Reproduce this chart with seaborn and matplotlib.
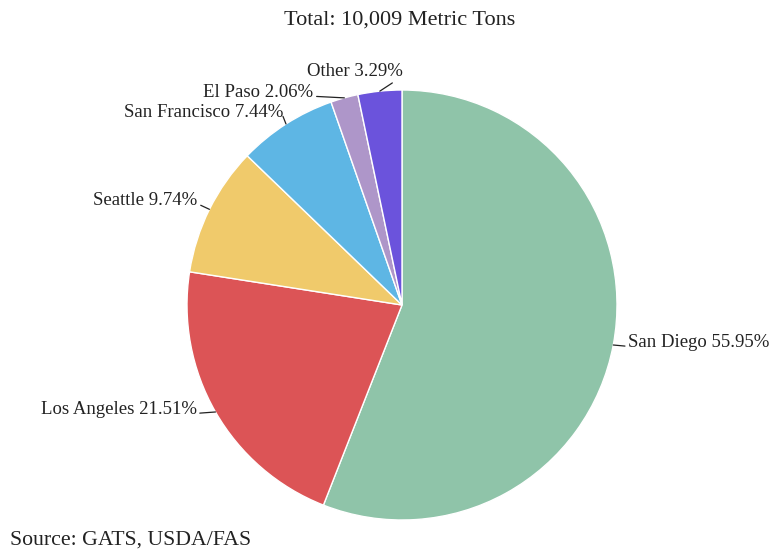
import numpy as np
import matplotlib.pyplot as plt
import seaborn as sns

ports = ["San Diego", "Los Angeles", "Seattle", "San Francisco", "El Paso", "Other"]
shares = [55.95, 21.51, 9.74, 7.44, 2.06, 3.29]
colors = ["#8fc4a9", "#dc5456", "#f0ca6b", "#5eb6e4", "#ae96c9", "#6b53dc"]
total_text = "Total: 10,009 Metric Tons"
source_text = "Source: GATS, USDA/FAS"

# label offsets from wedge edge (pixels), alignment, leader attach point
offsets = {
    "San Diego": (15, 2, "left", (0, 0.3)),
    "Los Angeles": (-19, 2, "right", (1, 0.3)),
    "Seattle": (-12, 9, "right", (1, 0.3)),
    "San Francisco": (-3, 11, "right", (1, 0.3)),
    "El Paso": (-31, 5, "right", (1, 0.3)),
    "Other": (23, 20, "right", (0.97, 0.1)),
}

sns.set_theme(style="white")
plt.rcParams["font.family"] = ["Liberation Serif", "DejaVu Serif"]

fig = plt.figure(figsize=(7.72, 5.5), dpi=100)
ax = fig.add_axes([(402 - 215) / 772, 30 / 550, 430 / 772, 430 / 550])

wedges, _ = ax.pie(shares, colors=sns.color_palette(colors), startangle=90,
                   counterclock=False, radius=1,
                   wedgeprops=dict(edgecolor="white", linewidth=1))
ax.set_xlim(-1, 1)
ax.set_ylim(-1, 1)
ax.set_aspect("auto")
ax.axis("off")

for w, name, val in zip(wedges, ports, shares):
    ang = np.deg2rad((w.theta1 + w.theta2) / 2)
    x, y = np.cos(ang), np.sin(ang)
    dx, dy, ha, rp = offsets[name]
    ax.annotate(f"{name} {val:.2f}%", xy=(x, y), xytext=(dx, dy),
                textcoords="offset pixels", ha=ha, va="center",
                fontsize=13.5, color="#222222",
                arrowprops=dict(arrowstyle="-", color="#222222", lw=0.9,
                                shrinkA=0, shrinkB=0, relpos=rp))

fig.text(400 / 772, 1 - 20 / 550, total_text, ha="center", va="center",
         fontsize=16, color="#222222")
fig.text(10 / 772, 1 - 540 / 550, source_text, ha="left", va="center",
         fontsize=15.7, color="#222222")

fig.savefig("out.png", dpi=100)
plt.close(fig)
